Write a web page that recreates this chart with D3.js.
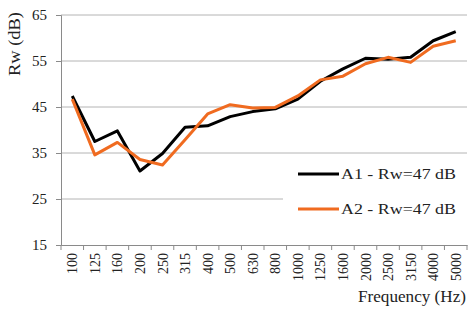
<!DOCTYPE html>
<html>
<head>
<meta charset="utf-8">
<script src="https://cdn.jsdelivr.net/npm/d3@7"></script>
<style>
  body { margin: 0; background: #fff; }
  svg text { font-family: "Liberation Serif", "Times New Roman", serif !important; fill: #222; }
</style>
</head>
<body>
<div id="chart"></div>
<script>
// frequency bands (Hz) and the two measured curves
const freqs = ["100", "125", "160", "200", "250", "315", "400", "500", "630", "800",
               "1000", "1250", "1600", "2000", "2500", "3150", "4000", "5000"];
const a1 = [47.4, 37.5, 39.8, 31.1, 34.9, 40.6, 40.9, 42.9, 44.0, 44.6,
            46.7, 50.6, 53.3, 55.6, 55.4, 55.8, 59.4, 61.4];
const a2 = [46.7, 34.6, 37.3, 33.6, 32.4, 37.9, 43.5, 45.5, 44.8, 44.9,
            47.4, 50.9, 51.7, 54.4, 55.8, 54.7, 58.2, 59.4];
const yTicks = [15, 25, 35, 45, 55, 65];
const seriesNames = ["A1 - Rw=47 dB", "A2 - Rw=47 dB"];
const colors = ["#000000", "#f06b20"];

const width = 475, height = 309;
const margin = { top: 15, left: 61, right: 8, bottom: 64 };
const serif = "'Liberation Serif', 'Times New Roman', serif";

const svg = d3.select("#chart").append("svg")
  .attr("width", width)
  .attr("height", height)
  .attr("font-family", serif);

const x = d3.scaleBand()
  .domain(freqs)
  .range([margin.left, width - margin.right])
  .padding(0);

const y = d3.scaleLinear()
  .domain([15, 65])
  .range([height - margin.bottom, margin.top]);

// gridlines
svg.append("g")
  .selectAll("line")
  .data(yTicks.filter(d => d > 15))
  .enter()
  .append("line")
  .attr("x1", margin.left)
  .attr("x2", width - margin.right)
  .attr("y1", d => y(d))
  .attr("y2", d => y(d))
  .attr("stroke", "#b4b4b4")
  .attr("stroke-width", 1);

// y axis
const yAxis = svg.append("g")
  .attr("transform", "translate(" + margin.left + ",0)")
  .call(d3.axisLeft(y).tickValues(yTicks).tickSize(5).tickPadding(9))
  .attr("font-family", serif)
  .attr("font-size", 15);
yAxis.select(".domain").attr("stroke", "#8a8a8a");
yAxis.selectAll(".tick line").attr("stroke", "#8a8a8a");
yAxis.selectAll(".tick text").attr("fill", "#222");

// x axis (labels at band centres, ticks at band edges)
const xAxis = svg.append("g")
  .attr("transform", "translate(0," + y(15) + ")")
  .call(d3.axisBottom(x).tickSize(0).tickPadding(0))
  .attr("font-family", serif)
  .attr("font-size", 14);
xAxis.select(".domain").attr("stroke", "#8a8a8a");
xAxis.selectAll(".tick text")
  .attr("fill", "#222")
  .attr("text-anchor", "end")
  .attr("dy", null)
  .attr("transform", "translate(5,8) rotate(-90)");

const edges = freqs.map(f => x(f)).concat([x.range()[1]]);
svg.append("g")
  .selectAll("line")
  .data(edges)
  .enter()
  .append("line")
  .attr("x1", d => d)
  .attr("x2", d => d)
  .attr("y1", y(15))
  .attr("y2", y(15) + 5)
  .attr("stroke", "#8a8a8a");

// legend box (white, hides the grid behind it)
svg.append("rect")
  .attr("x", 283)
  .attr("y", 158)
  .attr("width", width - margin.right - 283)
  .attr("height", 80)
  .attr("fill", "#fff");

// lines
const line = d3.line()
  .x((d, i) => x(freqs[i]) + x.bandwidth() / 2)
  .y(d => y(d));

[a1, a2].forEach(function(s, i) {
  svg.append("path")
    .datum(s)
    .attr("d", line)
    .attr("fill", "none")
    .attr("stroke", colors[i])
    .attr("stroke-width", 3)
    .attr("stroke-linejoin", "round");
});

// legend entries
const legend = svg.append("g");
seriesNames.forEach(function(name, i) {
  const ly = 174 + i * 35;
  legend.append("line")
    .attr("x1", 298).attr("x2", 339)
    .attr("y1", ly).attr("y2", ly)
    .attr("stroke", colors[i])
    .attr("stroke-width", 3);
  legend.append("text")
    .attr("x", 341)
    .attr("y", ly + 5)
    .attr("font-size", 15)
    .attr("textLength", 115)
    .attr("lengthAdjust", "spacingAndGlyphs")
    .text(name);
});

// axis titles
svg.append("text")
  .attr("transform", "translate(20,44) rotate(-90)")
  .attr("text-anchor", "middle")
  .attr("font-size", 16)
  .attr("textLength", 64)
  .attr("lengthAdjust", "spacingAndGlyphs")
  .text("Rw (dB)");

svg.append("text")
  .attr("x", 358)
  .attr("y", 302)
  .attr("font-size", 16)
  .attr("textLength", 108)
  .attr("lengthAdjust", "spacingAndGlyphs")
  .text("Frequency (Hz)");
</script>
</body>
</html>
